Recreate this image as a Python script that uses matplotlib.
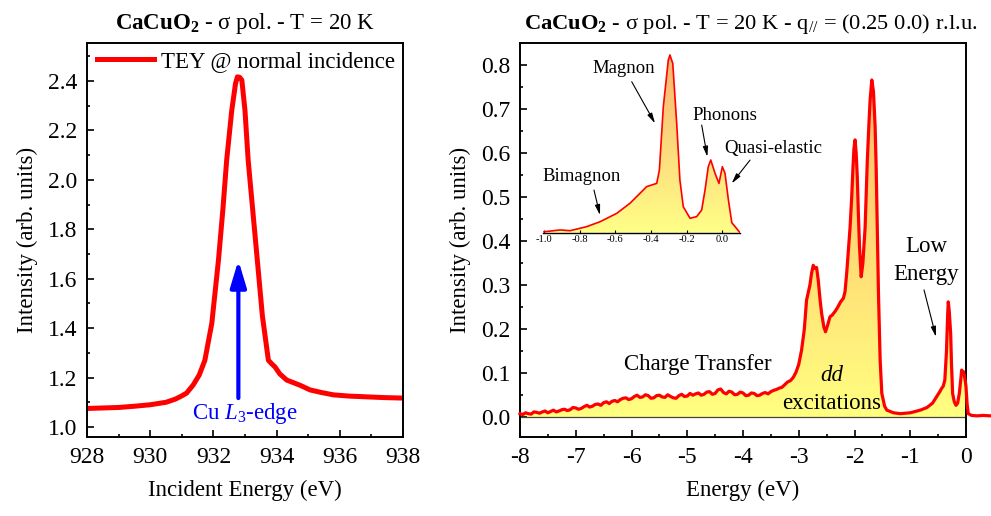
import numpy as np
import matplotlib
matplotlib.use("Agg")
import matplotlib.pyplot as plt
from matplotlib.colors import LinearSegmentedColormap
from matplotlib.ticker import MultipleLocator, FormatStrFormatter

# === 1. Data ===
# XAS (TEY) across the Cu L3 edge
tey_energy = [928.0, 928.5, 929.0, 929.5, 930.0, 930.5, 930.8, 931.0, 931.15, 931.36,
              931.55, 931.73, 931.95, 932.16, 932.3, 932.42, 932.58, 932.7, 932.76, 932.83,
              932.9, 933.0, 933.1, 933.25, 933.39, 933.55, 933.74, 933.85, 933.95, 934.1,
              934.32, 934.74, 935.06, 935.4, 935.8, 936.3, 936.85, 937.4, 938.0]
tey_intensity = [1.075, 1.077, 1.079, 1.084, 1.090, 1.100, 1.113, 1.126, 1.137, 1.170,
                 1.210, 1.270, 1.420, 1.675, 1.880, 2.080, 2.280, 2.390, 2.417, 2.415,
                 2.404, 2.280, 2.080, 1.870, 1.675, 1.450, 1.270, 1.255, 1.243, 1.215,
                 1.190, 1.169, 1.150, 1.140, 1.130, 1.125, 1.122, 1.119, 1.117]

# RIXS spectrum, energy loss in eV
rixs_energy = [-8.00, -7.95, -7.90, -7.85, -7.80, -7.75, -7.70, -7.65, -7.60, -7.55,
               -7.50, -7.45, -7.40, -7.35, -7.30, -7.25, -7.20, -7.15, -7.10, -7.05,
               -7.00, -6.95, -6.90, -6.85, -6.80, -6.75, -6.70, -6.65, -6.60, -6.55,
               -6.50, -6.45, -6.40, -6.35, -6.30, -6.25, -6.20, -6.15, -6.10, -6.05,
               -6.00, -5.95, -5.90, -5.85, -5.80, -5.75, -5.70, -5.65, -5.60, -5.55,
               -5.50, -5.45, -5.40, -5.35, -5.30, -5.25, -5.20, -5.15, -5.10, -5.05,
               -5.00, -4.95, -4.90, -4.85, -4.80, -4.75, -4.70, -4.65, -4.60, -4.55,
               -4.50, -4.45, -4.40, -4.35, -4.30, -4.25, -4.20, -4.15, -4.10, -4.05,
               -4.00, -3.95, -3.90, -3.85, -3.80, -3.75, -3.70, -3.65, -3.60, -3.55,
               -3.50, -3.45, -3.40, -3.35, -3.30, -3.25, -3.20, -3.15, -3.10, -3.05,
               -3.0, -2.95, -2.9, -2.86, -2.8, -2.77, -2.74, -2.71, -2.68, -2.65,
               -2.62, -2.59, -2.55, -2.52, -2.48, -2.44, -2.4, -2.35, -2.3, -2.25,
               -2.2, -2.17, -2.14, -2.11, -2.08, -2.05, -2.03, -2.01, -1.99, -1.97,
               -1.95, -1.93, -1.91, -1.88, -1.85, -1.81, -1.79, -1.77, -1.74, -1.72,
               -1.69, -1.66, -1.63, -1.61, -1.59, -1.57, -1.54, -1.51, -1.46, -1.42,
               -1.3, -1.18, -1.0, -0.82, -0.7, -0.6, -0.53, -0.47, -0.44, -0.41,
               -0.38, -0.35, -0.33, -0.318, -0.3, -0.275, -0.26, -0.24, -0.21, -0.18,
               -0.15, -0.12, -0.09, -0.078, -0.06, -0.05, -0.03, -0.01, 0.0, 0.02,
               0.04, 0.1, 0.2, 0.3, 0.45]
rixs_intensity = [0.008, 0.006, 0.010, 0.008, 0.007, 0.012, 0.011, 0.009, 0.012, 0.014,
                  0.010, 0.013, 0.016, 0.012, 0.014, 0.017, 0.018, 0.015, 0.017, 0.022,
                  0.021, 0.018, 0.020, 0.024, 0.027, 0.023, 0.025, 0.029, 0.030, 0.027,
                  0.033, 0.035, 0.031, 0.036, 0.038, 0.035, 0.040, 0.043, 0.044, 0.040,
                  0.042, 0.047, 0.050, 0.045, 0.046, 0.051, 0.049, 0.043, 0.044, 0.049,
                  0.050, 0.046, 0.045, 0.051, 0.047, 0.044, 0.043, 0.049, 0.052, 0.047,
                  0.048, 0.054, 0.050, 0.053, 0.055, 0.050, 0.052, 0.057, 0.058, 0.052,
                  0.054, 0.062, 0.064, 0.056, 0.053, 0.059, 0.057, 0.051, 0.052, 0.057,
                  0.055, 0.049, 0.050, 0.055, 0.054, 0.049, 0.050, 0.054, 0.056, 0.053,
                  0.058, 0.061, 0.063, 0.066, 0.068, 0.074, 0.080, 0.083, 0.090, 0.102,
                  0.120, 0.152, 0.200, 0.266, 0.300, 0.327, 0.345, 0.338, 0.340, 0.311,
                  0.270, 0.236, 0.205, 0.194, 0.210, 0.228, 0.232, 0.240, 0.250, 0.262,
                  0.270, 0.285, 0.327, 0.380, 0.430, 0.500, 0.560, 0.610, 0.630, 0.600,
                  0.546, 0.460, 0.387, 0.319, 0.350, 0.430, 0.510, 0.584, 0.670, 0.720,
                  0.766, 0.740, 0.660, 0.560, 0.420, 0.281, 0.130, 0.054, 0.025, 0.016,
                  0.010, 0.008, 0.010, 0.016, 0.022, 0.032, 0.046, 0.058, 0.065, 0.070,
                  0.084, 0.150, 0.230, 0.262, 0.240, 0.190, 0.120, 0.054, 0.035, 0.027,
                  0.032, 0.054, 0.090, 0.107, 0.100, 0.104, 0.095, 0.080, 0.069, 0.030,
                  0.008, 0.004, 0.003, 0.004, 0.003]

# high-resolution low-energy part (inset, arbitrary scale)
inset_energy = [-1.0, -0.91, -0.854, -0.761, -0.686, -0.592, -0.518, -0.443, -0.425, -0.368,
                -0.353, -0.331, -0.303, -0.294, -0.278, -0.256, -0.238, -0.219, -0.181, -0.144,
                -0.116, -0.097, -0.079, -0.065, -0.041, -0.019, 0.0, 0.015, 0.034, 0.053, 0.099]
inset_intensity = [0.005, 0.015, 0.011, 0.033, 0.060, 0.106, 0.161, 0.234, 0.252, 0.270,
                   0.343, 0.690, 0.945, 0.973, 0.927, 0.599, 0.289, 0.142, 0.079, 0.088,
                   0.124, 0.234, 0.361, 0.398, 0.325, 0.270, 0.361, 0.325, 0.179, 0.055, 0.0]

# === 2. Style ===
plt.rcParams["font.family"] = ["Liberation Serif", "DejaVu Serif"]
plt.rcParams["mathtext.fontset"] = "custom"
plt.rcParams["mathtext.rm"] = "Liberation Serif"
plt.rcParams["mathtext.it"] = "Liberation Serif:italic"
plt.rcParams["mathtext.bf"] = "Liberation Serif:bold"
plt.rcParams["axes.unicode_minus"] = False
plt.rcParams["font.size"] = 16
plt.rcParams["axes.linewidth"] = 1.4


def style_ticks(ax):
    ax.tick_params(which="both", direction="in", top=False, right=False, width=1.2, labelsize=17, pad=7)
    ax.tick_params(which="major", length=5)
    ax.tick_params(which="minor", length=2.5)


def gradient_fill(ax, x, y, c0, c1, ymax):
    poly = ax.fill_between(x, y, 0, facecolor="none", edgecolor="none")
    cmap = LinearSegmentedColormap.from_list("fill", [c0, c1])
    grad = np.linspace(0, 1, 256).reshape(-1, 1)
    im = ax.imshow(grad, cmap=cmap, aspect="auto", origin="lower",
                   extent=[min(x), max(x), 0, ymax], zorder=1)
    im.set_clip_path(poly.get_paths()[0], transform=ax.transData)


fig = plt.figure(figsize=(9.91, 5.16), dpi=100)
W, H = 991.0, 516.0

# === 3. Left panel: XAS ===
ax1 = fig.add_axes([87 / W, 1 - 437 / H, 316 / W, 394 / H])
ax1.plot(tey_energy, tey_intensity, color="red", lw=3.6, solid_joinstyle="round",
         label="TEY @ normal incidence")
ax1.set_xlim(928, 938)
ax1.set_ylim(0.9595, 2.554)
ax1.xaxis.set_major_locator(MultipleLocator(2))
ax1.xaxis.set_minor_locator(MultipleLocator(1))
ax1.yaxis.set_major_locator(MultipleLocator(0.2))
ax1.yaxis.set_minor_locator(MultipleLocator(0.1))
ax1.xaxis.set_major_formatter(FormatStrFormatter("%d"))
ax1.yaxis.set_major_formatter(FormatStrFormatter("%.1f"))
style_ticks(ax1)
ax1.set_xlabel("Incident Energy (eV)", fontsize=16.5, labelpad=9)
ax1.set_ylabel("Intensity (arb. units)", fontsize=16.5, labelpad=7)
ax1.set_title(r"$\mathbf{CaCuO}_\mathbf{2}$ - σ pol. - T = 20 K", fontsize=16.5, pad=10)
ax1.legend(loc="center left", bbox_to_anchor=(0.0316, 0.954), frameon=False, fontsize=16.5,
           borderpad=0, borderaxespad=0, handlelength=2.5, handletextpad=0.3)

ax1.annotate("", xy=(932.79, 1.675), xytext=(932.79, 1.117),
             arrowprops=dict(arrowstyle="-|>,head_length=0.8,head_width=0.24", color="blue",
                             lw=3, mutation_scale=20, shrinkA=0, shrinkB=0))
ax1.text(933.0, 1.055, r"Cu $\mathit{L}_\mathit{3}$-edge", color="blue", fontsize=16.5,
         ha="center", va="center")

# === 4. Right panel: RIXS ===
ax2 = fig.add_axes([520 / W, 1 - 437 / H, 446 / W, 394 / H])
e = np.array(rixs_energy)
s = np.array(rixs_intensity)
mask = e <= 0
gradient_fill(ax2, e[mask], s[mask], "#FFFF80", "#FFB46A", 0.8)
ax2.plot(e, s, color="red", lw=2.3, zorder=3, clip_on=False)
ax2.axhline(0, color="#444444", lw=0.9, zorder=2)
ax2.set_xlim(-8, 0)
ax2.set_ylim(-0.045, 0.85)
ax2.xaxis.set_major_locator(MultipleLocator(1))
ax2.xaxis.set_minor_locator(MultipleLocator(0.5))
ax2.yaxis.set_major_locator(MultipleLocator(0.1))
ax2.yaxis.set_minor_locator(MultipleLocator(0.05))
ax2.yaxis.set_major_formatter(FormatStrFormatter("%.1f"))
style_ticks(ax2)
ax2.set_xlabel("Energy (eV)", fontsize=16.5, labelpad=9)
ax2.set_ylabel("Intensity (arb. units)", fontsize=16.5, labelpad=7)
ax2.set_title(r"$\mathbf{CaCuO}_\mathbf{2}$ - σ pol. - T = 20 K - q$_{\mathit{//}}$ = (0.25 0.0) r.l.u.",
              fontsize=16.2, pad=10, x=0.518)

ax2.text(-4.807, 0.120, "Charge Transfer", fontsize=16.5, ha="center", va="center", zorder=4)
ax2.text(-2.409, 0.0955, "dd", fontsize=16.5, style="italic", ha="center", va="center", zorder=4)
ax2.text(-2.409, 0.031, "excitations", fontsize=16.5, ha="center", va="center", zorder=4)
ax2.text(-0.721, 0.388, "Low", fontsize=16.5, ha="center", va="center", zorder=4)
ax2.text(-0.721, 0.323, "Energy", fontsize=16.5, ha="center", va="center", zorder=4)

arrow_kw = dict(arrowstyle="-|>,head_length=0.6,head_width=0.15", color="black",
                lw=0.8, mutation_scale=10, shrinkA=0, shrinkB=0)
ax2.annotate("", xy=(-0.538, 0.1825), xytext=(-0.753, 0.289), arrowprops=arrow_kw)

# inset labels live in the main axes coordinates
ax2.text(-6.147, 0.7925, "Magnon", fontsize=13.5, ha="center", va="center", zorder=5)
ax2.annotate("", xy=(-5.578, 0.6675), xytext=(-5.996, 0.762), arrowprops=arrow_kw, zorder=5)
ax2.text(-4.323, 0.686, "Phonons", fontsize=13.5, ha="center", va="center", zorder=5)
ax2.annotate("", xy=(-4.640, 0.5916), xytext=(-4.741, 0.6636), arrowprops=arrow_kw, zorder=5)
ax2.text(-3.456, 0.6107, "Quasi-elastic", fontsize=13.5, ha="center", va="center", zorder=5)
ax2.annotate("", xy=(-4.203, 0.531), xytext=(-3.874, 0.584), arrowprops=arrow_kw, zorder=5)
ax2.text(-6.893, 0.546, "Bimagnon", fontsize=13.5, ha="center", va="center", zorder=5)
ax2.annotate("", xy=(-6.565, 0.459), xytext=(-6.673, 0.516), arrowprops=arrow_kw, zorder=5)

# === 5. Inset ===
axi = fig.add_axes([543 / W, 1 - 232.7 / H, 197 / W, 182.7 / H])
axi.patch.set_alpha(0)
gradient_fill(axi, inset_energy, inset_intensity, "#FFFF88", "#F8B070", 1.0)
axi.plot(inset_energy, inset_intensity, color="red", lw=1.2, zorder=3)
axi.set_xlim(-1.0056, 0.099)
axi.set_ylim(0, 1.0)
for side in ["left", "top", "right"]:
    axi.spines[side].set_visible(False)
axi.spines["bottom"].set_linewidth(1.0)
axi.set_yticks([])
axi.xaxis.set_major_locator(MultipleLocator(0.2))
axi.xaxis.set_major_formatter(FormatStrFormatter("%.1f"))
axi.tick_params(axis="x", direction="in", length=2, width=0.8, labelsize=7.6, pad=2)

fig.savefig("out.png", dpi=100)
